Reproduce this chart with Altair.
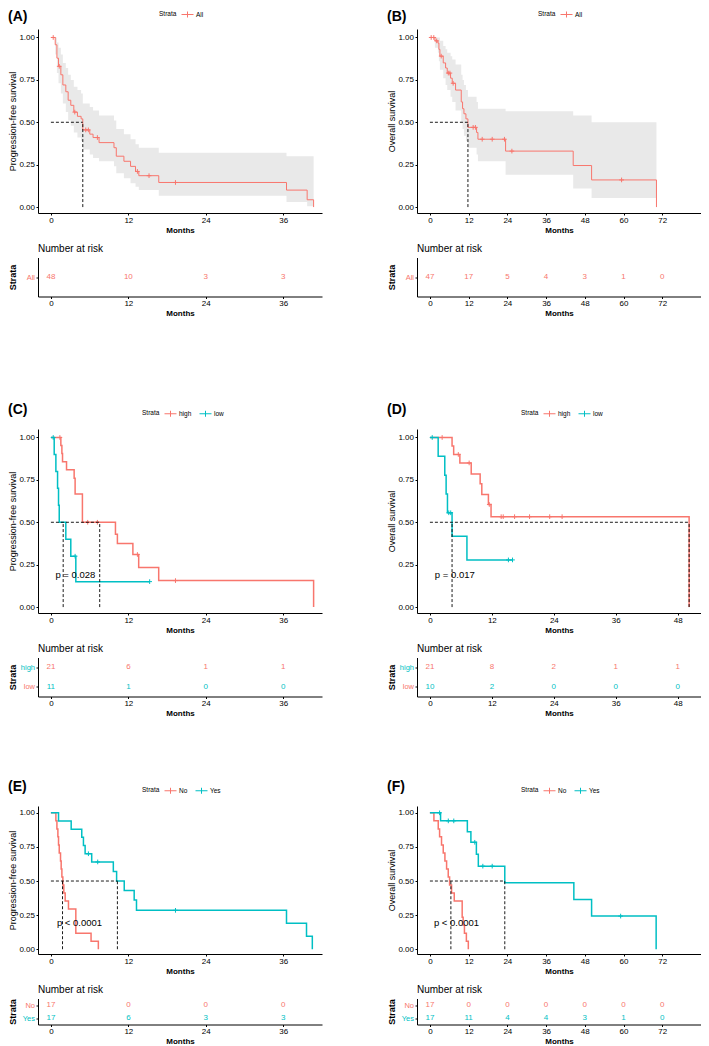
import altair as alt
import pandas as pd

RED = "#F8766D"
CYAN = "#00BFC4"
FONT = "Liberation Sans"
PLUS = "M-1,0H1M0,-1V1"
LEG_SYMBOL = "M-1,0H1M0,-0.5V0.5"

# ---------------- Panel A : PFS, all patients ----------------
A_time = [0, 0.67, 0.93, 1.18, 1.54, 1.85, 2.31, 2.67, 3.08, 3.55, 4.11, 4.68, 4.94, 6.02, 6.53,
          7.46, 9.77, 10.13, 11.31, 12.34, 13.11, 13.62, 16.71, 36.5, 39.7, 40.7]
A_surv = [1, 0.957, 0.878, 0.83, 0.78, 0.72, 0.68, 0.63, 0.60, 0.56, 0.535, 0.52, 0.455, 0.43, 0.41,
          0.38, 0.35, 0.30, 0.27, 0.24, 0.21, 0.185, 0.145, 0.10, 0.043, 0.0]
A_lo = [1, 0.90, 0.79, 0.73, 0.67, 0.61, 0.56, 0.51, 0.48, 0.44, 0.41, 0.39, 0.34, 0.31, 0.29,
        0.27, 0.24, 0.20, 0.17, 0.14, 0.12, 0.10, 0.067, 0.03, 0.005, 0.005]
A_hi = [1, 1.0, 0.97, 0.94, 0.90, 0.85, 0.82, 0.78, 0.75, 0.71, 0.69, 0.67, 0.61, 0.59, 0.57,
        0.54, 0.51, 0.46, 0.43, 0.40, 0.37, 0.35, 0.32, 0.30, 0.30, 0.30]
A_cens_time = [0.36, 1.29, 3.7, 5.4, 5.8, 7.2, 13.4, 15.2, 19.3]
A_cens_surv = [1.0, 0.83, 0.56, 0.455, 0.455, 0.41, 0.21, 0.185, 0.145]
A_median = [4.94]
A_risk_time = [0, 12, 24, 36]
A_risk_all = [48, 10, 3, 3]

# ---------------- Panel B : OS, all patients ----------------
B_time = [0, 1.55, 2.48, 2.79, 3.10, 4.13, 4.86, 5.37, 6.40, 6.92, 7.95, 9.71, 10.12, 10.54, 11.16,
          11.78, 14.46, 14.88, 23.45, 44.4, 50.1, 70.2]
B_surv = [1, 0.98, 0.967, 0.93, 0.89, 0.85, 0.82, 0.79, 0.76, 0.73, 0.69, 0.62, 0.58, 0.55, 0.52,
          0.47, 0.44, 0.40, 0.33, 0.245, 0.16, 0.0]
B_lo = [1, 0.94, 0.91, 0.86, 0.81, 0.76, 0.72, 0.69, 0.65, 0.62, 0.57, 0.50, 0.46, 0.42, 0.39,
        0.35, 0.31, 0.27, 0.19, 0.11, 0.053, 0.053]
B_hi = [1, 1, 1, 1, 0.98, 0.95, 0.93, 0.91, 0.89, 0.87, 0.84, 0.78, 0.75, 0.72, 0.69,
        0.65, 0.62, 0.58, 0.565, 0.54, 0.50, 0.50]
B_cens_time = [0.4, 1.2, 2.1, 3.5, 5.7, 6.2, 7.2, 13.4, 14.1, 16.2, 19.3, 23.1, 25.4, 59.4]
B_cens_surv = [1.0, 1.0, 0.98, 0.89, 0.79, 0.79, 0.73, 0.47, 0.47, 0.40, 0.40, 0.40, 0.33, 0.16]
B_median = [11.78]
B_risk_time = [0, 12, 24, 36, 48, 60, 72]
B_risk_all = [47, 17, 5, 4, 3, 1, 0]

# ---------------- Panel C : PFS, high vs low ----------------
C_high_time = [0, 1.54, 1.70, 1.80, 2.42, 3.60, 3.75, 4.88, 10.0, 10.3, 12.7, 13.6, 16.7, 40.7]
C_high_surv = [1, 0.952, 0.905, 0.857, 0.81, 0.76, 0.667, 0.50, 0.43, 0.375, 0.31, 0.234, 0.156, 0.0]
C_high_cens_time = [1.39, 5.7, 7.2, 13.4, 19.3]
C_high_cens_surv = [1.0, 0.5, 0.5, 0.31, 0.156]
C_low_time = [0, 0.51, 0.77, 1.03, 1.18, 1.29, 2.31, 3.08, 3.86, 15.3]
C_low_surv = [1, 0.9, 0.8, 0.7, 0.6, 0.5, 0.4, 0.3, 0.15, 0.15]
C_low_cens_time = [0.36, 3.75, 15.3]
C_low_cens_surv = [1.0, 0.3, 0.15]
C_median = [7.56, 1.9]
C_pval = "p = 0.028"
C_risk_time = [0, 12, 24, 36]
C_risk_high = [21, 6, 1, 1]
C_risk_low = [11, 1, 0, 0]

# ---------------- Panel D : OS, high vs low ----------------
D_high_time = [0, 4.29, 4.6, 5.8, 8.0, 9.73, 10.05, 11.33, 11.84, 50.2]
D_high_surv = [1, 0.95, 0.90, 0.85, 0.785, 0.727, 0.664, 0.605, 0.533, 0.0]
D_high_cens_time = [2.37, 5.5, 7.6, 11.5, 13.8, 14.2, 16.4, 19.3, 23.2, 25.6]
D_high_cens_surv = [1.0, 0.90, 0.85, 0.605, 0.533, 0.533, 0.533, 0.533, 0.533, 0.533]
D_low_time = [0, 1.6, 2.88, 3.14, 3.4, 4.29, 7.17, 16.0]
D_low_surv = [1, 0.889, 0.778, 0.667, 0.556, 0.417, 0.278, 0.278]
D_low_cens_time = [0.45, 3.65, 4.03, 15.2, 16.0]
D_low_cens_surv = [1.0, 0.556, 0.556, 0.278, 0.278]
D_median = [50.2, 4.29]
D_pval = "p = 0.017"
D_risk_time = [0, 12, 24, 36, 48]
D_risk_high = [21, 8, 2, 1, 1]
D_risk_low = [10, 2, 0, 0, 0]

# ---------------- Panel E : PFS, No vs Yes ----------------
E_no_time = [0, 0.77, 0.93, 1.08, 1.18, 1.29, 1.49, 1.59, 1.70, 1.85, 2.0, 2.21, 2.72, 3.86, 6.22, 7.35]
E_no_surv = [1, 0.941, 0.882, 0.824, 0.765, 0.706, 0.647, 0.588, 0.529, 0.471, 0.412, 0.353, 0.294,
             0.118, 0.059, 0.0]
E_yes_time = [0, 1.18, 3.14, 4.78, 5.04, 5.30, 6.32, 9.67, 10.18, 11.36, 12.9, 13.26, 36.5, 39.6, 40.5]
E_yes_surv = [1, 0.94, 0.88, 0.82, 0.76, 0.70, 0.64, 0.57, 0.50, 0.43, 0.36, 0.285, 0.19, 0.095, 0.0]
E_yes_cens_time = [5.81, 7.25, 19.3]
E_yes_cens_surv = [0.70, 0.64, 0.285]
E_median = [1.8, 10.3]
E_pval = "p < 0.0001"
E_risk_time = [0, 12, 24, 36]
E_risk_no = [17, 0, 0, 0]
E_risk_yes = [17, 6, 3, 3]

# ---------------- Panel F : OS, No vs Yes ----------------
F_no_time = [0, 1.24, 2.58, 3.0, 3.6, 4.13, 4.65, 5.17, 5.68, 6.1, 6.71, 7.54, 10.0, 10.3, 10.7, 11.3, 11.9]
F_no_surv = [1, 0.941, 0.882, 0.824, 0.765, 0.706, 0.647, 0.588, 0.529, 0.471, 0.412, 0.353, 0.235,
             0.176, 0.118, 0.059, 0.0]
F_yes_time = [0, 3.3, 11.6, 12.7, 14.4, 15.0, 23.2, 44.6, 50.1, 70.1]
F_yes_surv = [1, 0.941, 0.862, 0.784, 0.696, 0.609, 0.487, 0.365, 0.243, 0.0]
F_yes_cens_time = [3.0, 5.7, 7.4, 13.9, 16.4, 19.3, 59.1]
F_yes_cens_surv = [1.0, 0.941, 0.941, 0.784, 0.609, 0.609, 0.243]
F_median = [6.5, 23.2]
F_pval = "p < 0.0001"
F_risk_time = [0, 12, 24, 36, 48, 60, 72]
F_risk_no = [17, 0, 0, 0, 0, 0, 0]
F_risk_yes = [17, 11, 4, 4, 3, 1, 0]

Y_TICKS = [0, 0.25, 0.5, 0.75, 1.0]
Y_DOMAIN = [-0.035, 1.05]

AX_COMMON = dict(grid=False, domainColor="black", tickColor="black",
                 titleColor="black", tickSize=2, domainWidth=1, tickWidth=1)
XAX = dict(AX_COMMON, labelColor="black", labelPadding=1, titlePadding=2, labelFontSize=8,
           titleFontSize=8, titleFontWeight="bold")
YAX = dict(AX_COMMON, labelPadding=1.5, titlePadding=1, labelFontSize=8, titleFontSize=9,
           titleFontWeight="normal", minExtent=20, maxExtent=20)


def series_df(series):
    rows = []
    for name, ts, vs in series:
        for t, v in zip(ts, vs):
            rows.append({"strata": name, "time": t, "surv": v})
    return pd.DataFrame(rows, columns=["strata", "time", "surv"])


def km_chart(letter, ylab, xdom, xticks, h, strata, colors, curves, cens, medians,
             legend_x, lw, legend_y, title_offset, ci=None, pval=None, ppos=None):
    xs = alt.Scale(domain=xdom, nice=False, zero=False)
    ys = alt.Scale(domain=Y_DOMAIN, nice=False, zero=False)
    cs = alt.Scale(domain=strata, range=colors)
    xax = alt.Axis(values=xticks, title="Months", **XAX)
    yax = alt.Axis(values=Y_TICKS, format=".2f", title=ylab, labelColor="black", **YAX)
    X = alt.X("time:Q", scale=xs, axis=xax)

    layers = []
    if ci is not None:
        t, lo, hi = ci
        ci_df = pd.DataFrame({"time": t, "lo": lo, "hi": hi})
        layers.append(
            alt.Chart(ci_df).mark_area(interpolate="step-after", color="#e9e9e9").encode(
                x=X, y=alt.Y("lo:Q", scale=ys, axis=yax), y2="hi:Q")
        )
    leg = alt.Legend(orient="none", legendX=legend_x, legendY=legend_y, direction="horizontal",
                     title="Strata", titleOrient="left", titleFontSize=6.5,
                     titleFontWeight="normal", titlePadding=4, titleColor="black",
                     labelFontSize=6.5, labelColor="black", labelOffset=2, columnPadding=5,
                     symbolType=LEG_SYMBOL, symbolSize=144, symbolStrokeWidth=1)
    layers.append(
        alt.Chart(series_df(curves)).mark_line(interpolate="step-after", strokeWidth=lw).encode(
            x=X, y=alt.Y("surv:Q", scale=ys, axis=yax),
            color=alt.Color("strata:N", scale=cs, legend=leg))
    )
    layers.append(
        alt.Chart(series_df(cens)).mark_point(shape=PLUS, filled=False, size=22, strokeWidth=1,
                                              opacity=1).encode(
            x=X, y=alt.Y("surv:Q", scale=ys, axis=yax),
            color=alt.Color("strata:N", scale=cs, legend=None))
    )
    med_df = pd.DataFrame({
        "time": [0] + list(medians),
        "time2": [max(medians)] + list(medians),
        "surv": [0.5] + [0.0] * len(medians),
        "surv2": [0.5] + [0.5] * len(medians),
    })
    layers.append(
        alt.Chart(med_df).mark_rule(strokeDash=[3, 2], color="black", strokeWidth=0.9).encode(
            x=X, x2="time2:Q", y=alt.Y("surv:Q", scale=ys, axis=yax), y2="surv2:Q")
    )
    if pval is not None:
        p_df = pd.DataFrame({"time": [ppos[0]], "surv": [ppos[1]], "label": [pval]})
        layers.append(
            alt.Chart(p_df).mark_text(align="left", baseline="middle", fontSize=9.5,
                                      color="black").encode(
                x=X, y=alt.Y("surv:Q", scale=ys, axis=yax), text="label:N")
        )
    return alt.layer(*layers).properties(
        width=284, height=h,
        title=alt.TitleParams(letter, anchor="start", fontSize=14, fontWeight="bold",
                              offset=title_offset, color="black"))


def risk_chart(xdom, xticks, h, strata, colors, label_color, times, counts):
    rows = []
    for name, ns in zip(strata, counts):
        for t, n in zip(times, ns):
            rows.append({"strata": name, "time": t, "n": n})
    rdf = pd.DataFrame(rows)
    yax = alt.Axis(title="Strata", labelColor=label_color,
                   **dict(YAX, titleFontWeight="bold", labelFontSize=7.5))
    return alt.Chart(rdf).mark_text(fontSize=8).encode(
        x=alt.X("time:Q", scale=alt.Scale(domain=xdom, nice=False, zero=False),
                axis=alt.Axis(values=xticks, title="Months", **XAX)),
        y=alt.Y("strata:N", scale=alt.Scale(domain=strata), sort=strata, axis=yax),
        text=alt.Text("n:Q", format="d"),
        color=alt.Color("strata:N", scale=alt.Scale(domain=strata, range=colors), legend=None),
    ).properties(width=284, height=h,
                 title=alt.TitleParams("Number at risk", anchor="start", frame="group",
                                       fontSize=10, fontWeight="normal", offset=4,
                                       color="black"))


def panel(km, rk):
    return alt.vconcat(km, rk, spacing=9.5).resolve_scale(color="independent")


def cond_color(first, c_first, c_other):
    return {"condition": {"test": f"datum.value === '{first}'", "value": c_first}, "value": c_other}


XD_PFS = [-2, 42]
XT_PFS = [0, 12, 24, 36]
XD_OS = [-4, 84]
XT_OS = [0, 12, 24, 36, 48, 60, 72]
XD_D = [-2.5, 52.5]
XT_D = [0, 12, 24, 36, 48]

H_BIG = 184
H_SMALL = 148

pA = panel(
    km_chart("(A)", "Progression-free survival", XD_PFS, XT_PFS, H_BIG, ["All"], [RED],
             [("All", A_time, A_surv)], [("All", A_cens_time, A_cens_surv)], A_median,
             121, 1.0, -21, -16, ci=(A_time, A_lo, A_hi)),
    risk_chart(XD_PFS, XT_PFS, 39, ["All"], [RED], RED, A_risk_time, [A_risk_all]))

pB = panel(
    km_chart("(B)", "Overall survival", XD_OS, XT_OS, H_BIG, ["All"], [RED],
             [("All", B_time, B_surv)], [("All", B_cens_time, B_cens_surv)], B_median,
             121, 1.0, -21, -16, ci=(B_time, B_lo, B_hi)),
    risk_chart(XD_OS, XT_OS, 39, ["All"], [RED], RED, B_risk_time, [B_risk_all]))

pC = panel(
    km_chart("(C)", "Progression-free survival", XD_PFS, XT_PFS, H_BIG, ["high", "low"], [RED, CYAN],
             [("high", C_high_time, C_high_surv), ("low", C_low_time, C_low_surv)],
             [("high", C_high_cens_time, C_high_cens_surv), ("low", C_low_cens_time, C_low_cens_surv)],
             C_median, 104, 1.5, -22, -10, pval=C_pval, ppos=(0.7, 0.19)),
    risk_chart(XD_PFS, XT_PFS, 39, ["high", "low"], [RED, CYAN], cond_color("high", CYAN, RED),
               C_risk_time, [C_risk_high, C_risk_low]))

pD = panel(
    km_chart("(D)", "Overall survival", XD_D, XT_D, H_BIG, ["high", "low"], [RED, CYAN],
             [("high", D_high_time, D_high_surv), ("low", D_low_time, D_low_surv)],
             [("high", D_high_cens_time, D_high_cens_surv), ("low", D_low_cens_time, D_low_cens_surv)],
             D_median, 104, 1.5, -22, -10, pval=D_pval, ppos=(0.96, 0.19)),
    risk_chart(XD_D, XT_D, 39, ["high", "low"], [RED, CYAN], cond_color("high", CYAN, RED),
               D_risk_time, [D_risk_high, D_risk_low]))

pE = panel(
    km_chart("(E)", "Progression-free survival", XD_PFS, XT_PFS, H_SMALL, ["No", "Yes"], [RED, CYAN],
             [("No", E_no_time, E_no_surv), ("Yes", E_yes_time, E_yes_surv)],
             [("Yes", E_yes_cens_time, E_yes_cens_surv)],
             E_median, 104, 1.5, -22, -10, pval=E_pval, ppos=(0.93, 0.195)),
    risk_chart(XD_PFS, XT_PFS, 26, ["No", "Yes"], [RED, CYAN], cond_color("No", RED, CYAN),
               E_risk_time, [E_risk_no, E_risk_yes]))

pF = panel(
    km_chart("(F)", "Overall survival", XD_OS, XT_OS, H_SMALL, ["No", "Yes"], [RED, CYAN],
             [("No", F_no_time, F_no_surv), ("Yes", F_yes_time, F_yes_surv)],
             [("Yes", F_yes_cens_time, F_yes_cens_surv)],
             F_median, 104, 1.5, -22, -10, pval=F_pval, ppos=(1.24, 0.195)),
    risk_chart(XD_OS, XT_OS, 26, ["No", "Yes"], [RED, CYAN], cond_color("No", RED, CYAN),
               F_risk_time, [F_risk_no, F_risk_yes]))


def row(a, b):
    return alt.hconcat(a, b, spacing=65).resolve_scale(color="independent")


top = alt.vconcat(row(pA, pB), row(pC, pD), spacing=85).resolve_scale(color="independent")
chart = alt.vconcat(top, row(pE, pF), spacing=62).resolve_scale(color="independent").properties(
    padding=0
).configure(font=FONT).configure_view(stroke=None)

chart.save("out.html", embed_options={"renderer": "svg", "actions": False})
